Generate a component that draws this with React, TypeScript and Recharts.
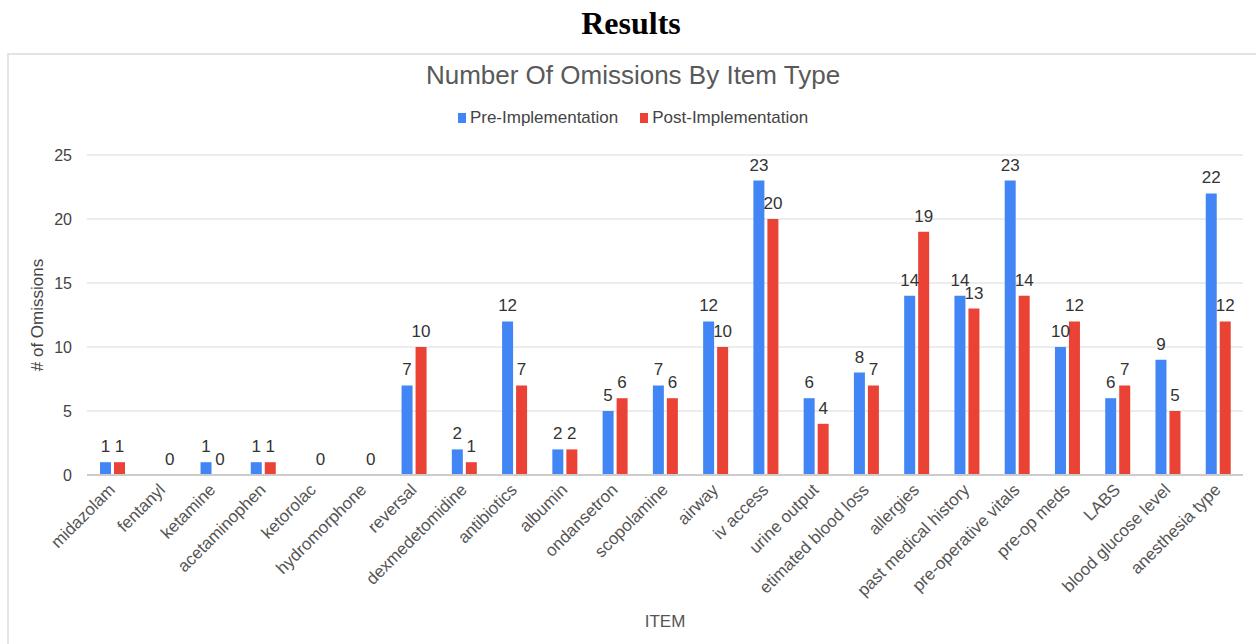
import { BarChart, Bar, XAxis, YAxis, CartesianGrid, LabelList } from "recharts";

const items = [
  "midazolam",
  "fentanyl",
  "ketamine",
  "acetaminophen",
  "ketorolac",
  "hydromorphone",
  "reversal",
  "dexmedetomidine",
  "antibiotics",
  "albumin",
  "ondansetron",
  "scopolamine",
  "airway",
  "iv access",
  "urine output",
  "etimated blood loss",
  "allergies",
  "past medical history",
  "pre-operative vitals",
  "pre-op meds",
  "LABS",
  "blood glucose level",
  "anesthesia type",
];
const preValues = [1, 0, 1, 1, 0, 0, 7, 2, 12, 2, 5, 7, 12, 23, 6, 8, 14, 14, 23, 10, 6, 9, 22];
const postValues = [1, 0, 0, 1, 0, 0, 10, 1, 7, 2, 6, 6, 10, 20, 4, 7, 19, 13, 14, 12, 7, 5, 12];
const yTicks = [0, 5, 10, 15, 20, 25];

const seriesNames = ["Pre-Implementation", "Post-Implementation"];
const colors = ["#4285f4", "#ea4335"];

const data = items.map((name, i) => ({ name, pre: preValues[i], post: postValues[i] }));

const font = "Arial, 'Liberation Sans', sans-serif";

// rotated category labels, anchored at their end under the tick
const ItemTick = (props: any) => {
  const { x, y, payload } = props;
  return (
    <text
      x={x}
      y={y}
      transform={`rotate(-45 ${x} ${y})`}
      textAnchor="end"
      dominantBaseline="central"
      fontSize={17}
      fill="#555"
      fontFamily={font}
    >
      {payload.value}
    </text>
  );
};

// Sheets drops the pre label when both bars are zero (they collide)
const PreLabel = (props: any) => {
  const { x, y, width, value } = props;
  if (!value) return null;
  return (
    <text x={x + width / 2} y={y - 10} textAnchor="middle" fontSize={17} fill="#333" fontFamily={font}>
      {value}
    </text>
  );
};

const PostLabel = (props: any) => {
  const { x, y, width, value } = props;
  return (
    <text x={x + width / 2} y={y - 10} textAnchor="middle" fontSize={17} fill="#333" fontFamily={font}>
      {String(value)}
    </text>
  );
};

// keep zero bars in the layout so their labels still get drawn
const zeroSize = (v: any) => (v === 0 ? 0.01 : 0);

export default function App() {
  return (
    <div style={{ position: "absolute", left: 0, top: 0, width: 1256, height: 644, background: "#fff", overflow: "hidden" }}>
      <div
        style={{
          position: "absolute",
          top: 5,
          left: 0,
          width: 1262,
          textAlign: "center",
          fontFamily: "'Liberation Serif', 'Times New Roman', serif",
          fontWeight: "bold",
          fontSize: 32,
          color: "#000",
        }}
      >
        Results
      </div>
      <div
        style={{
          position: "absolute",
          left: 7,
          top: 53,
          width: 1260,
          height: 600,
          borderTop: "2px solid #e3e3e3",
          borderLeft: "2px solid #e3e3e3",
        }}
      />
      <div
        style={{
          position: "absolute",
          top: 60,
          left: 0,
          width: 1266,
          textAlign: "center",
          fontFamily: font,
          fontSize: 26,
          color: "#595959",
        }}
      >
        Number Of Omissions By Item Type
      </div>
      <div
        style={{
          position: "absolute",
          top: 108,
          left: 0,
          width: 1266,
          display: "flex",
          justifyContent: "center",
          gap: 22,
          fontFamily: font,
          fontSize: 17,
          color: "#444",
        }}
      >
        {seriesNames.map((s, i) => (
          <span key={s} style={{ display: "flex", alignItems: "center" }}>
            <span style={{ display: "inline-block", width: 8, height: 10, background: colors[i], marginRight: 4 }} />
            {s}
          </span>
        ))}
      </div>
      <div style={{ position: "absolute", left: 0, top: 0 }}>
        <BarChart
          width={1256}
          height={644}
          data={data}
          margin={{ top: 155, right: 13, bottom: 17, left: 27 }}
          barSize={11}
          barGap={3}
        >
          <CartesianGrid vertical={false} stroke="#dadada" />
          <XAxis
            dataKey="name"
            interval={0}
            height={152}
            tickLine={false}
            axisLine={{ stroke: "#cccccc", strokeWidth: 2 }}
            tick={<ItemTick />}
            tickSize={0}
            tickMargin={12}
            label={{ value: "ITEM", position: "insideBottom", offset: 0, fontSize: 17, fill: "#555", fontFamily: font }}
          />
          <YAxis
            width={60}
            domain={[0, 25]}
            ticks={yTicks}
            tickLine={false}
            axisLine={false}
            tickSize={0}
            tickMargin={15}
            tick={{ fontSize: 16, fill: "#444", fontFamily: font }}
            label={{
              value: "# of Omissions",
              angle: -90,
              position: "insideLeft",
              offset: 10,
              style: { textAnchor: "middle" },
              fontSize: 17,
              fill: "#444",
              fontFamily: font,
            }}
          />
          <Bar dataKey="pre" name={seriesNames[0]} fill={colors[0]} minPointSize={zeroSize} isAnimationActive={false}>
            <LabelList dataKey="pre" content={<PreLabel />} />
          </Bar>
          <Bar dataKey="post" name={seriesNames[1]} fill={colors[1]} minPointSize={zeroSize} isAnimationActive={false}>
            <LabelList dataKey="post" content={<PostLabel />} />
          </Bar>
        </BarChart>
      </div>
    </div>
  );
}
